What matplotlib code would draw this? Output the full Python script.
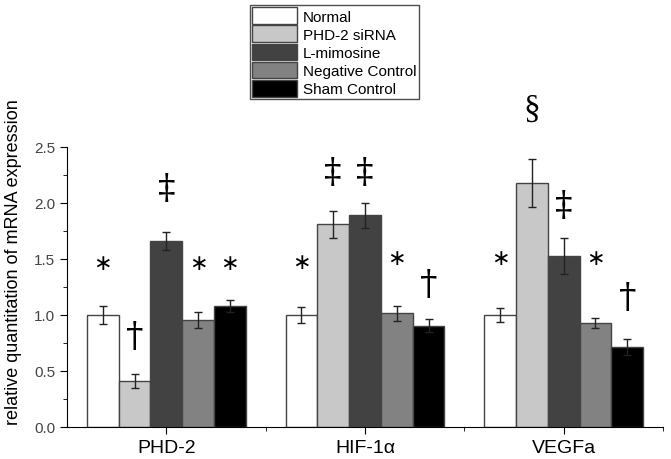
import numpy as np
import matplotlib.pyplot as plt
from matplotlib.ticker import MultipleLocator, FixedLocator

groups = ["PHD-2", "HIF-1α", "VEGFa"]
series = ["Normal", "PHD-2 siRNA", "L-mimosine", "Negative Control", "Sham Control"]
colors = ["#ffffff", "#c8c8c8", "#424242", "#828282", "#000000"]

values = [
    [1.00, 1.00, 1.00],    # Normal
    [0.41, 1.81, 2.175],   # PHD-2 siRNA
    [1.66, 1.89, 1.53],    # L-mimosine
    [0.955, 1.015, 0.925], # Negative Control
    [1.08, 0.905, 0.715],  # Sham Control
]
errors = [
    [0.08, 0.075, 0.065],
    [0.065, 0.12, 0.215],
    [0.08, 0.11, 0.16],
    [0.075, 0.065, 0.045],
    [0.05, 0.06, 0.075],
]
# significance marks: (group, series, symbol, y)
marks = [
    (0, 0, "*", 1.46), (0, 1, "†", 0.81), (0, 2, "‡", 2.13), (0, 3, "*", 1.46), (0, 4, "*", 1.46),
    (1, 0, "*", 1.47), (1, 1, "‡", 2.28), (1, 2, "‡", 2.28), (1, 3, "*", 1.51), (1, 4, "†", 1.28),
    (2, 0, "*", 1.51), (2, 1, "§", 2.84), (2, 2, "‡", 1.98), (2, 3, "*", 1.51), (2, 4, "†", 1.16),
]

plt.rcParams['font.family'] = ['Liberation Sans', 'DejaVu Sans']

fig = plt.figure(figsize=(6.71, 4.60), dpi=100)
ax = fig.add_axes([67 / 671, 32 / 460, 596 / 671, 280 / 460])

x = np.arange(len(groups))
width = 0.16
for i, name in enumerate(series):
    pos = x + (i - 2) * width
    ax.bar(pos, values[i], width, color=colors[i], edgecolor="#444444", linewidth=1.0,
           label=name, yerr=errors[i],
           error_kw=dict(ecolor="#222222", elinewidth=1.0, capsize=3, capthick=1.0))

for g, s, sym, y in marks:
    xp = x[g] + (s - 2) * width
    if sym == "*":
        ax.text(xp, y, "∗", ha="center", va="center", fontsize=16,
                family=["DejaVu Sans"], color="black")
    elif sym == "§":
        ax.text(xp, y, sym, ha="center", va="center", fontsize=24,
                family=["Liberation Serif"], color="black", clip_on=False)
    else:
        ax.text(xp, y, sym, ha="center", va="center", fontsize=25,
                family=["DejaVu Serif"], color="black")

ax.set_xlim(-0.5, 2.5)
ax.set_ylim(0, 2.5)
ax.set_xticks(x)
ax.set_xticklabels(groups, fontsize=14)
ax.xaxis.set_minor_locator(FixedLocator([0.5, 1.5, 2.5]))
ax.yaxis.set_major_locator(MultipleLocator(0.5))
ax.yaxis.set_minor_locator(MultipleLocator(0.25))
ax.tick_params(axis="y", labelsize=11, labelcolor="#444444", length=5)
ax.tick_params(axis="x", length=5)
ax.tick_params(which="minor", length=3)
ax.set_ylabel("relative quantitation of mRNA expression", fontsize=13)
ax.yaxis.set_label_coords(-0.075, 0.593)

ax.spines["top"].set_visible(False)
ax.spines["right"].set_visible(False)

leg = ax.legend(loc="upper left", frameon=True, fancybox=False, fontsize=11,
                handlelength=2.9, handleheight=1.3, labelspacing=0.1, borderpad=0.15,
                handletextpad=0.4, borderaxespad=0)
leg.set_bbox_to_anchor((250 / 671, 1 - 6 / 460), transform=fig.transFigure)
leg.get_frame().set_edgecolor("#222222")
leg.get_frame().set_linewidth(1.0)

fig.savefig("out.png", dpi=100)
